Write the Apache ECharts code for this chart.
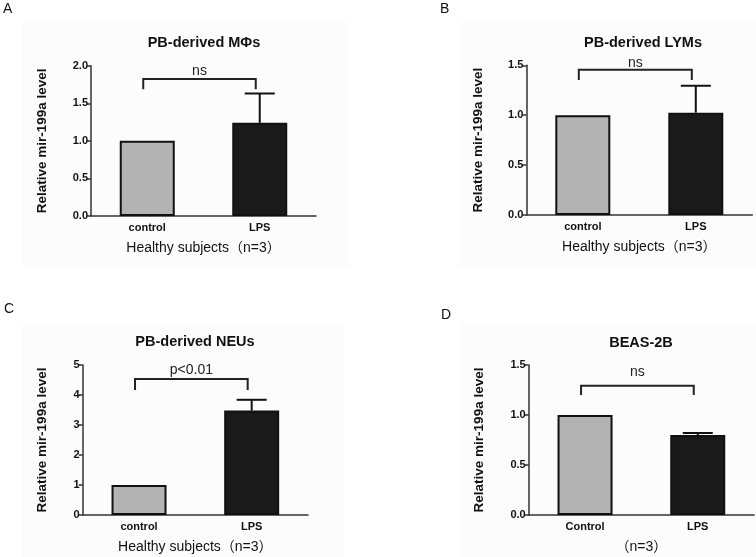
<!DOCTYPE html>
<html>
<head>
<meta charset="utf-8">
<script src="https://cdn.jsdelivr.net/npm/echarts@6/dist/echarts.min.js"></script>
<style>html,body{margin:0;padding:0;background:#fff}#c{width:756px;height:557px}</style>
</head>
<body>
<div id="c"></div>
<script>
// ---- data ----
const panelLetters = ['A', 'B', 'C', 'D'];
const panelTitles = ['PB-derived MΦs', 'PB-derived LYMs', 'PB-derived NEUs', 'BEAS-2B'];
const catsA = ['control', 'LPS'];
const catsB = ['control', 'LPS'];
const catsC = ['control', 'LPS'];
const catsD = ['Control', 'LPS'];
const meansA = [1.0, 1.24];
const meansB = [1.0, 1.025];
const meansC = [1.0, 3.48];
const meansD = [1.0, 0.80];
const semA = [0, 0.39];
const semB = [0, 0.27];
const semC = [0, 0.36];
const semD = [0, 0.02];
const yMax = [2.0, 1.5, 5, 1.5];
const yStep = [0.5, 0.5, 1, 0.5];
const yDecimals = [1, 1, 0, 1];
const yAxisTitle = 'Relative mir-199a level';
const xAxisTitles = ['Healthy subjects（n=3）', 'Healthy subjects（n=3）', 'Healthy subjects（n=3）', '（n=3）'];
// significance brackets: [bracket level, leg bottom, label level, label]
const sigA = [1.823, 1.686, 1.93, 'ns'];
const sigB = [1.456, 1.353, 1.52, 'ns'];
const sigC = [4.533, 4.167, 4.83, 'p<0.01'];
const sigD = [1.293, 1.2, 1.433, 'ns'];

const cats = [catsA, catsB, catsC, catsD];
const means = [meansA, meansB, meansC, meansD];
const sems = [semA, semB, semC, semD];
const sigs = [sigA, sigB, sigC, sigD];

const FONT = '"Liberation Sans", Arial, "Noto Sans CJK SC", sans-serif';
const grids = [
  {left: 91, top: 65.7, width: 225, height: 150.3},
  {left: 526.3, top: 65.3, width: 226, height: 149.7},
  {left: 82.7, top: 365, width: 225.3, height: 150},
  {left: 528.7, top: 365, width: 225.4, height: 150}
];
const nameGaps = [42, 41, 34, 43];
const titlePos = [[204, 42.7], [643, 42.7], [195, 342.3], [641, 342.7]];
const letterPos = [[3, 9.5], [440, 9.5], [4, 309], [441, 315]];
const bgRects = [[22, 22, 328, 245], [458, 22, 298, 245], [22, 323, 321, 234], [460, 322, 296, 235]];

const xAxes = [], yAxes = [], series = [], graphics = [];
for (let i = 0; i < 4; i++) {
  const r = bgRects[i];
  graphics.push({type: 'rect', shape: {x: r[0], y: r[1], width: r[2], height: r[3]}, style: {fill: '#fcfcfc'}, z: -10});
  graphics.push({type: 'text', x: titlePos[i][0], y: titlePos[i][1],
    style: {text: panelTitles[i], fill: '#111', font: 'bold 14.5px ' + FONT, textAlign: 'center', textVerticalAlign: 'middle'}});
  graphics.push({type: 'text', x: letterPos[i][0], y: letterPos[i][1],
    style: {text: panelLetters[i], fill: '#111', font: '14px ' + FONT, textAlign: 'left', textVerticalAlign: 'middle'}});
  xAxes.push({
    type: 'category', gridIndex: i, data: cats[i],
    axisLine: {lineStyle: {color: '#333', width: 1.5}},
    axisTick: {show: false},
    axisLabel: {color: '#111', fontWeight: 'bold', fontSize: 11, fontFamily: FONT, margin: 6},
    name: xAxisTitles[i], nameLocation: 'middle', nameGap: 25,
    nameTextStyle: {color: '#111', fontSize: 14, fontFamily: FONT, verticalAlign: 'top'}
  });
  const dec = yDecimals[i];
  yAxes.push({
    type: 'value', gridIndex: i, min: 0, max: yMax[i], interval: yStep[i],
    splitLine: {show: false},
    axisLine: {show: true, lineStyle: {color: '#333', width: 1.5}},
    axisTick: {show: true, length: 4, lineStyle: {color: '#333', width: 1.5}},
    axisLabel: {color: '#111', fontWeight: 'bold', fontSize: 11, fontFamily: FONT, margin: 3,
      formatter: v => v.toFixed(dec)},
    name: yAxisTitle, nameLocation: 'middle', nameGap: nameGaps[i], nameRotate: 90,
    nameTextStyle: {color: '#111', fontSize: 13.5, fontWeight: 'bold', fontFamily: FONT}
  });
  series.push({
    type: 'bar', xAxisIndex: i, yAxisIndex: i, barWidth: 55,
    data: means[i].map((v, k) => ({value: v, itemStyle: {color: k === 0 ? '#b3b3b3' : '#1a1a1a'}})),
    itemStyle: {borderColor: '#111', borderWidth: 2},
    z: 2
  });
  series.push({
    type: 'custom', xAxisIndex: i, yAxisIndex: i, z: 3,
    data: means[i].map((v, k) => [k, v, sems[i][k]]),
    renderItem: function (params, api) {
      const s = api.value(2);
      if (!s) return null;
      const p0 = api.coord([api.value(0), api.value(1)]);
      const p1 = api.coord([api.value(0), api.value(1) + s]);
      const style = {stroke: '#111', lineWidth: 2};
      return {type: 'group', children: [
        {type: 'line', shape: {x1: p0[0], y1: p0[1], x2: p1[0], y2: p1[1]}, style},
        {type: 'line', shape: {x1: p1[0] - 15, y1: p1[1], x2: p1[0] + 15, y2: p1[1]}, style}
      ]};
    }
  });
  const sg = sigs[i];
  series.push({
    type: 'custom', xAxisIndex: i, yAxisIndex: i, z: 3,
    data: [[0, 1, sg[0], sg[1], sg[2]]],
    renderItem: function (params, api) {
      const a = api.coord([api.value(0), api.value(2)]);
      const b = api.coord([api.value(1), api.value(2)]);
      const aL = api.coord([api.value(0), api.value(3)]);
      const t = api.coord([api.value(0), api.value(4)]);
      const a0 = a[0] - 4, b0 = b[0] - 4;
      return {type: 'group', children: [
        {type: 'polyline', shape: {points: [[a0, aL[1]], [a0, a[1]], [b0, b[1]], [b0, aL[1]]]},
          style: {stroke: '#222', lineWidth: 2, fill: null}},
        {type: 'text', x: (a0 + b0) / 2, y: t[1],
          style: {text: sg[3], fill: '#222', font: '14px ' + FONT, textAlign: 'center', textVerticalAlign: 'middle'}}
      ]};
    }
  });
}

const chart = echarts.init(document.getElementById('c'), null, {renderer: 'canvas'});
chart.setOption({
  animation: false,
  backgroundColor: '#ffffff',
  grid: grids,
  xAxis: xAxes,
  yAxis: yAxes,
  series: series,
  graphic: graphics
});
</script>
</body>
</html>
